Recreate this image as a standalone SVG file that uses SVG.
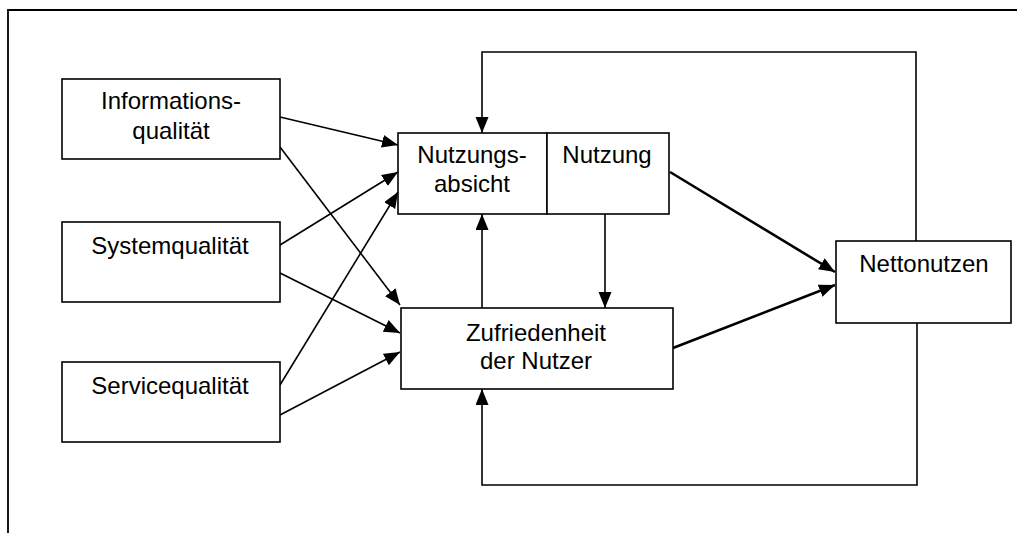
<svg xmlns="http://www.w3.org/2000/svg" width="1017" height="533" viewBox="0 0 1017 533">
<style>
.box{fill:#fff;stroke:#000;stroke-width:1.6}
.t{font-family:"Liberation Sans",Arial,sans-serif;font-size:24px;fill:#000;text-anchor:middle}
.c{fill:none;stroke:#000;stroke-width:1.6}
.ct{fill:none;stroke:#000;stroke-width:2.6}
</style>
<defs>
<marker id="ah" markerUnits="userSpaceOnUse" markerWidth="17" markerHeight="14" refX="16" refY="6.5" orient="auto">
<path d="M0,0 L16,6.5 L0,13 Z" fill="#000"/>
</marker>
</defs>
<rect width="1017" height="533" fill="#fff"/>
<g id="frame">
<polyline points="8,533 8,10 1017,10" fill="none" stroke="#000" stroke-width="1.8"/>
</g>
<g id="connectors">
<line class="c" x1="280" y1="117" x2="398" y2="145" marker-end="url(#ah)"/>
<line class="c" x1="280" y1="147" x2="400" y2="305" marker-end="url(#ah)"/>
<line class="c" x1="280" y1="245" x2="398" y2="172" marker-end="url(#ah)"/>
<line class="c" x1="280" y1="273" x2="400" y2="333" marker-end="url(#ah)"/>
<line class="c" x1="280" y1="385" x2="398" y2="192" marker-end="url(#ah)"/>
<line class="c" x1="280" y1="415" x2="400" y2="352" marker-end="url(#ah)"/>
<line class="c" x1="482" y1="308" x2="482" y2="214" marker-end="url(#ah)"/>
<line class="c" x1="605" y1="214" x2="605" y2="308" marker-end="url(#ah)"/>
<line class="ct" x1="670" y1="172" x2="835" y2="272" marker-end="url(#ah)"/>
<line class="ct" x1="673" y1="348" x2="835" y2="285" marker-end="url(#ah)"/>
<polyline class="c" points="916,241 916,52 482,52 482,133" marker-end="url(#ah)"/>
<polyline class="c" points="917,323 917,485 482,485 482,389" marker-end="url(#ah)"/>
</g>
<g id="info">
<rect class="box" x="62" y="79" width="218" height="80"/>
<text class="t" x="171" y="109">Informations-</text>
<text class="t" x="171" y="139">qualität</text>
</g>
<g id="system">
<rect class="box" x="62" y="222" width="218" height="80"/>
<text class="t" x="170" y="254">Systemqualität</text>
</g>
<g id="service">
<rect class="box" x="62" y="362" width="218" height="80"/>
<text class="t" x="170" y="394">Servicequalität</text>
</g>
<g id="nutzungsabsicht">
<rect class="box" x="398" y="133" width="149" height="81"/>
<text class="t" x="472" y="163">Nutzungs-</text>
<text class="t" x="472" y="192">absicht</text>
</g>
<g id="nutzung">
<rect class="box" x="547" y="133" width="122" height="81"/>
<text class="t" x="607" y="163">Nutzung</text>
</g>
<g id="zufriedenheit">
<rect class="box" x="401" y="308" width="272" height="81"/>
<text class="t" x="536" y="341">Zufriedenheit</text>
<text class="t" x="536" y="369">der Nutzer</text>
</g>
<g id="nettonutzen">
<rect class="box" x="836" y="241" width="175" height="82"/>
<text class="t" x="924" y="272">Nettonutzen</text>
</g>
</svg>
